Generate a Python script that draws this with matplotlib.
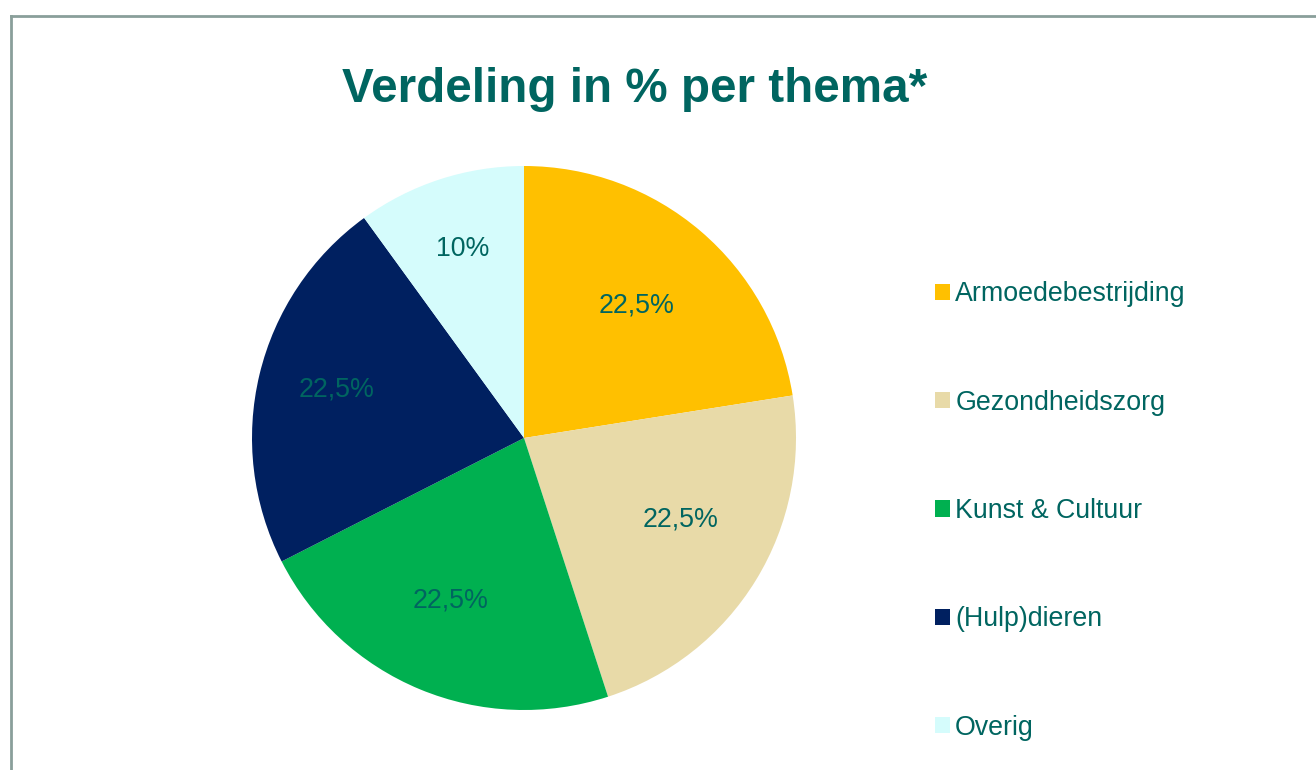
import numpy as np
import matplotlib.pyplot as plt
from matplotlib.lines import Line2D
from matplotlib.patches import Patch

# Themes and share in %
themes = ['Armoedebestrijding', 'Gezondheidszorg', 'Kunst & Cultuur', '(Hulp)dieren', 'Overig']
shares = [22.5, 22.5, 22.5, 22.5, 10]
pct_labels = ['22,5%', '22,5%', '22,5%', '22,5%', '10%']
colors = ['#FFC000', '#E8DAA8', '#00B050', '#002060', '#D5FCFC']

text_color = '#006560'
plt.rcParams['font.family'] = ['Liberation Sans', 'DejaVu Sans']

fig = plt.figure(figsize=(13.16, 7.70), dpi=100)

# pie axes: centre (524, 438) px, radius 272 px
W, H = 1316, 770
ax = fig.add_axes([(524 - 272) / W, (H - 710) / H, 544 / W, 544 / H])
wedges, _ = ax.pie(shares, colors=colors, startangle=90, counterclock=False,
                   radius=1.0, wedgeprops=dict(linewidth=0))
ax.set_xlim(-1, 1)
ax.set_ylim(-1, 1)
ax.set_aspect('equal')

# percentage labels (distance from centre as fraction of the radius)
label_dist = [0.64, 0.65, 0.655, 0.71, 0.73]
angle_shift = [0, 4, -2, -1, 0]
for w, lab, d, s in zip(wedges, pct_labels, label_dist, angle_shift):
    mid = np.deg2rad((w.theta1 + w.theta2) / 2 + s)
    ax.text(d * np.cos(mid), d * np.sin(mid), lab, ha='center', va='center',
            fontsize=19.3, color=text_color)

fig.text(635 / W, 1 - 89 / H, 'Verdeling in % per thema*', ha='center', va='center',
         fontsize=34.3, fontweight='bold', color=text_color)

handles = [Patch(facecolor=c, edgecolor='none') for c in colors]
leg = fig.legend(handles, themes, loc='center left', bbox_to_anchor=(911 / W, 1 - 511 / H),
                 frameon=False, fontsize=19.3, labelspacing=3.07, handlelength=0.55,
                 handleheight=0.55, handletextpad=0.2, labelcolor=text_color)

# frame lines (left and top)
fig.add_artist(Line2D([10.5 / W, 10.5 / W], [0, 1 - 15.5 / H], color='#8A9F9A', lw=2))
fig.add_artist(Line2D([10.5 / W, 1], [1 - 15.5 / H, 1 - 15.5 / H], color='#8A9F9A', lw=2))

fig.savefig('out.png', dpi=100)
